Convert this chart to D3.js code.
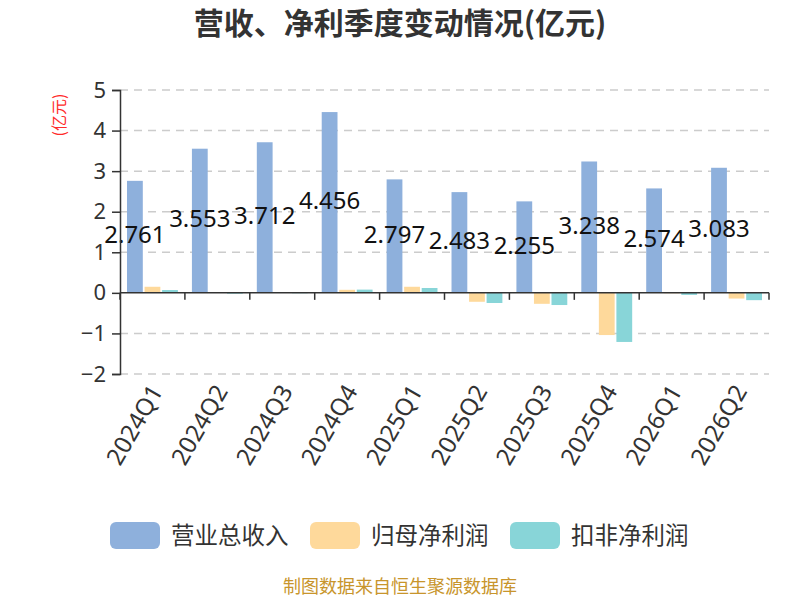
<!DOCTYPE html>
<html>
<head>
<meta charset="utf-8">
<script src="https://cdn.jsdelivr.net/npm/d3@7"></script>
<style>
	body { margin: 0; background: #fff; }
	svg { font-family: "Noto Sans CJK SC", "Noto Sans", sans-serif; }
</style>
</head>
<body>
<svg id="chart" width="800" height="600"></svg>
<script>
	const quarters = ["2024Q1", "2024Q2", "2024Q3", "2024Q4", "2025Q1", "2025Q2", "2025Q3", "2025Q4", "2026Q1", "2026Q2"];
	const revenue = [2.761, 3.553, 3.712, 4.456, 2.797, 2.483, 2.255, 3.238, 2.574, 3.083];
	const netProfit = [0.15, 0.005, 0.004, 0.075, 0.15, -0.22, -0.27, -1.04, -0.01, -0.14];
	const deductedProfit = [0.07, -0.02, -0.01, 0.08, 0.12, -0.25, -0.30, -1.21, -0.05, -0.18];
	const seriesNames = ["营业总收入", "归母净利润", "扣非净利润"];
	const seriesColors = ["#8eb0dc", "#fed99b", "#88d5d8"];
	const yTicks = [-2, -1, 0, 1, 2, 3, 4, 5];

	const svg = d3.select("#chart");
	const m = { top: 90, right: 31, bottom: 226, left: 120 };
	const W = 800, H = 600;
	const iw = W - m.left - m.right;
	const ih = H - m.top - m.bottom;

	const g = svg.append("g").attr("transform", `translate(${m.left}, ${m.top})`);

	const x0 = d3.scaleBand().domain(quarters).range([0, iw]).padding(0);
	const x1 = d3.scaleBand().domain(seriesNames).range([0, x0.bandwidth()])
		.paddingInner(0.1).paddingOuter(0.4);
	const y = d3.scaleLinear().domain([-2, 5]).range([ih, 0]);

	// title
	svg.append("text")
		.attr("x", W / 2).attr("y", 23).attr("dy", "0.35em")
		.attr("text-anchor", "middle").attr("font-size", "30px").attr("font-weight", "bold")
		.attr("fill", "#333").text("营收、净利季度变动情况(亿元)");

	// unit label
	svg.append("text")
		.attr("transform", `translate(59, 115) rotate(-90)`)
		.attr("text-anchor", "middle").attr("dy", "0.35em")
		.attr("font-size", "16px").attr("fill", "#ff2a2a")
		.text("(亿元)");

	// grid
	g.append("g").selectAll("line").data(yTicks.filter(d => d !== 0)).join("line")
		.attr("x1", 0).attr("x2", iw)
		.attr("y1", d => y(d)).attr("y2", d => y(d))
		.attr("stroke", "#ccc").attr("stroke-width", 1.5).attr("stroke-dasharray", "8,6");

	// bars
	const data = quarters.map((q, i) => ({ q, vals: [revenue[i], netProfit[i], deductedProfit[i]] }));
	const groups = g.append("g").selectAll("g").data(data).join("g")
		.attr("transform", d => `translate(${x0(d.q)}, 0)`);
	groups.selectAll("rect")
		.data(d => d.vals.map((v, k) => ({ v, k })))
		.join("rect")
		.attr("x", d => x1(seriesNames[d.k]))
		.attr("width", x1.bandwidth())
		.attr("y", d => y(Math.max(0, d.v)))
		.attr("height", d => Math.abs(y(d.v) - y(0)))
		.attr("fill", d => seriesColors[d.k]);

	// revenue labels
	g.append("g").selectAll("text").data(data).join("text")
		.attr("x", d => x0(d.q) + x1(seriesNames[0]) + x1.bandwidth() / 2)
		.attr("y", d => (y(d.vals[0]) + y(0)) / 2 - 2)
		.attr("dy", "0.35em")
		.attr("text-anchor", "middle").attr("font-size", "24px").attr("fill", "#111")
		.attr("font-family", "'Noto Sans', sans-serif")
		.text(d => d3.format(".3f")(d.vals[0]));

	// y axis
	const yAxis = g.append("g")
		.call(d3.axisLeft(y).tickValues(yTicks).tickSize(8).tickPadding(6).tickFormat(d3.format("d")));
	yAxis.select(".domain").attr("stroke", "#333").attr("stroke-width", 1.5);
	yAxis.selectAll(".tick line").attr("stroke", "#333").attr("stroke-width", 1.5);
	yAxis.selectAll(".tick text").attr("font-size", "22px").attr("fill", "#333")
		.attr("font-family", "'Noto Sans', sans-serif");

	// zero axis with category ticks
	const zeroAxis = g.append("g").attr("transform", `translate(0, ${y(0)})`);
	zeroAxis.append("line").attr("x1", 0).attr("x2", iw)
		.attr("stroke", "#333").attr("stroke-width", 1.5);
	zeroAxis.selectAll(".ctick").data(quarters.map(q => x0(q)).concat([iw])).join("line")
		.attr("class", "ctick")
		.attr("x1", d => d).attr("x2", d => d).attr("y1", 0).attr("y2", 7)
		.attr("stroke", "#333").attr("stroke-width", 1.5);

	// category labels
	g.append("g").selectAll("text").data(quarters).join("text")
		.attr("transform", d => `translate(${x0(d) + x0.bandwidth() / 2 + 4}, ${ih + 13}) rotate(-60)`)
		.attr("text-anchor", "end").attr("dy", "0.35em")
		.attr("font-size", "24px").attr("fill", "#333")
		.attr("font-family", "'Noto Sans', sans-serif")
		.text(d => d);

	// legend
	const legendX = [110, 310, 510];
	const legend = svg.append("g").selectAll("g").data(seriesNames).join("g")
		.attr("transform", (d, i) => `translate(${legendX[i]}, 522)`);
	legend.append("rect")
		.attr("width", 50).attr("height", 27).attr("rx", 6)
		.attr("fill", (d, i) => seriesColors[i]);
	legend.append("text")
		.attr("x", 61).attr("y", 14).attr("dy", "0.35em")
		.attr("font-size", "23.5px").attr("fill", "#333")
		.text(d => d);

	// source
	svg.append("text")
		.attr("x", W / 2).attr("y", 587).attr("dy", "0.35em")
		.attr("text-anchor", "middle").attr("font-size", "18px").attr("fill", "#c8952c")
		.text("制图数据来自恒生聚源数据库");
</script>
</body>
</html>
